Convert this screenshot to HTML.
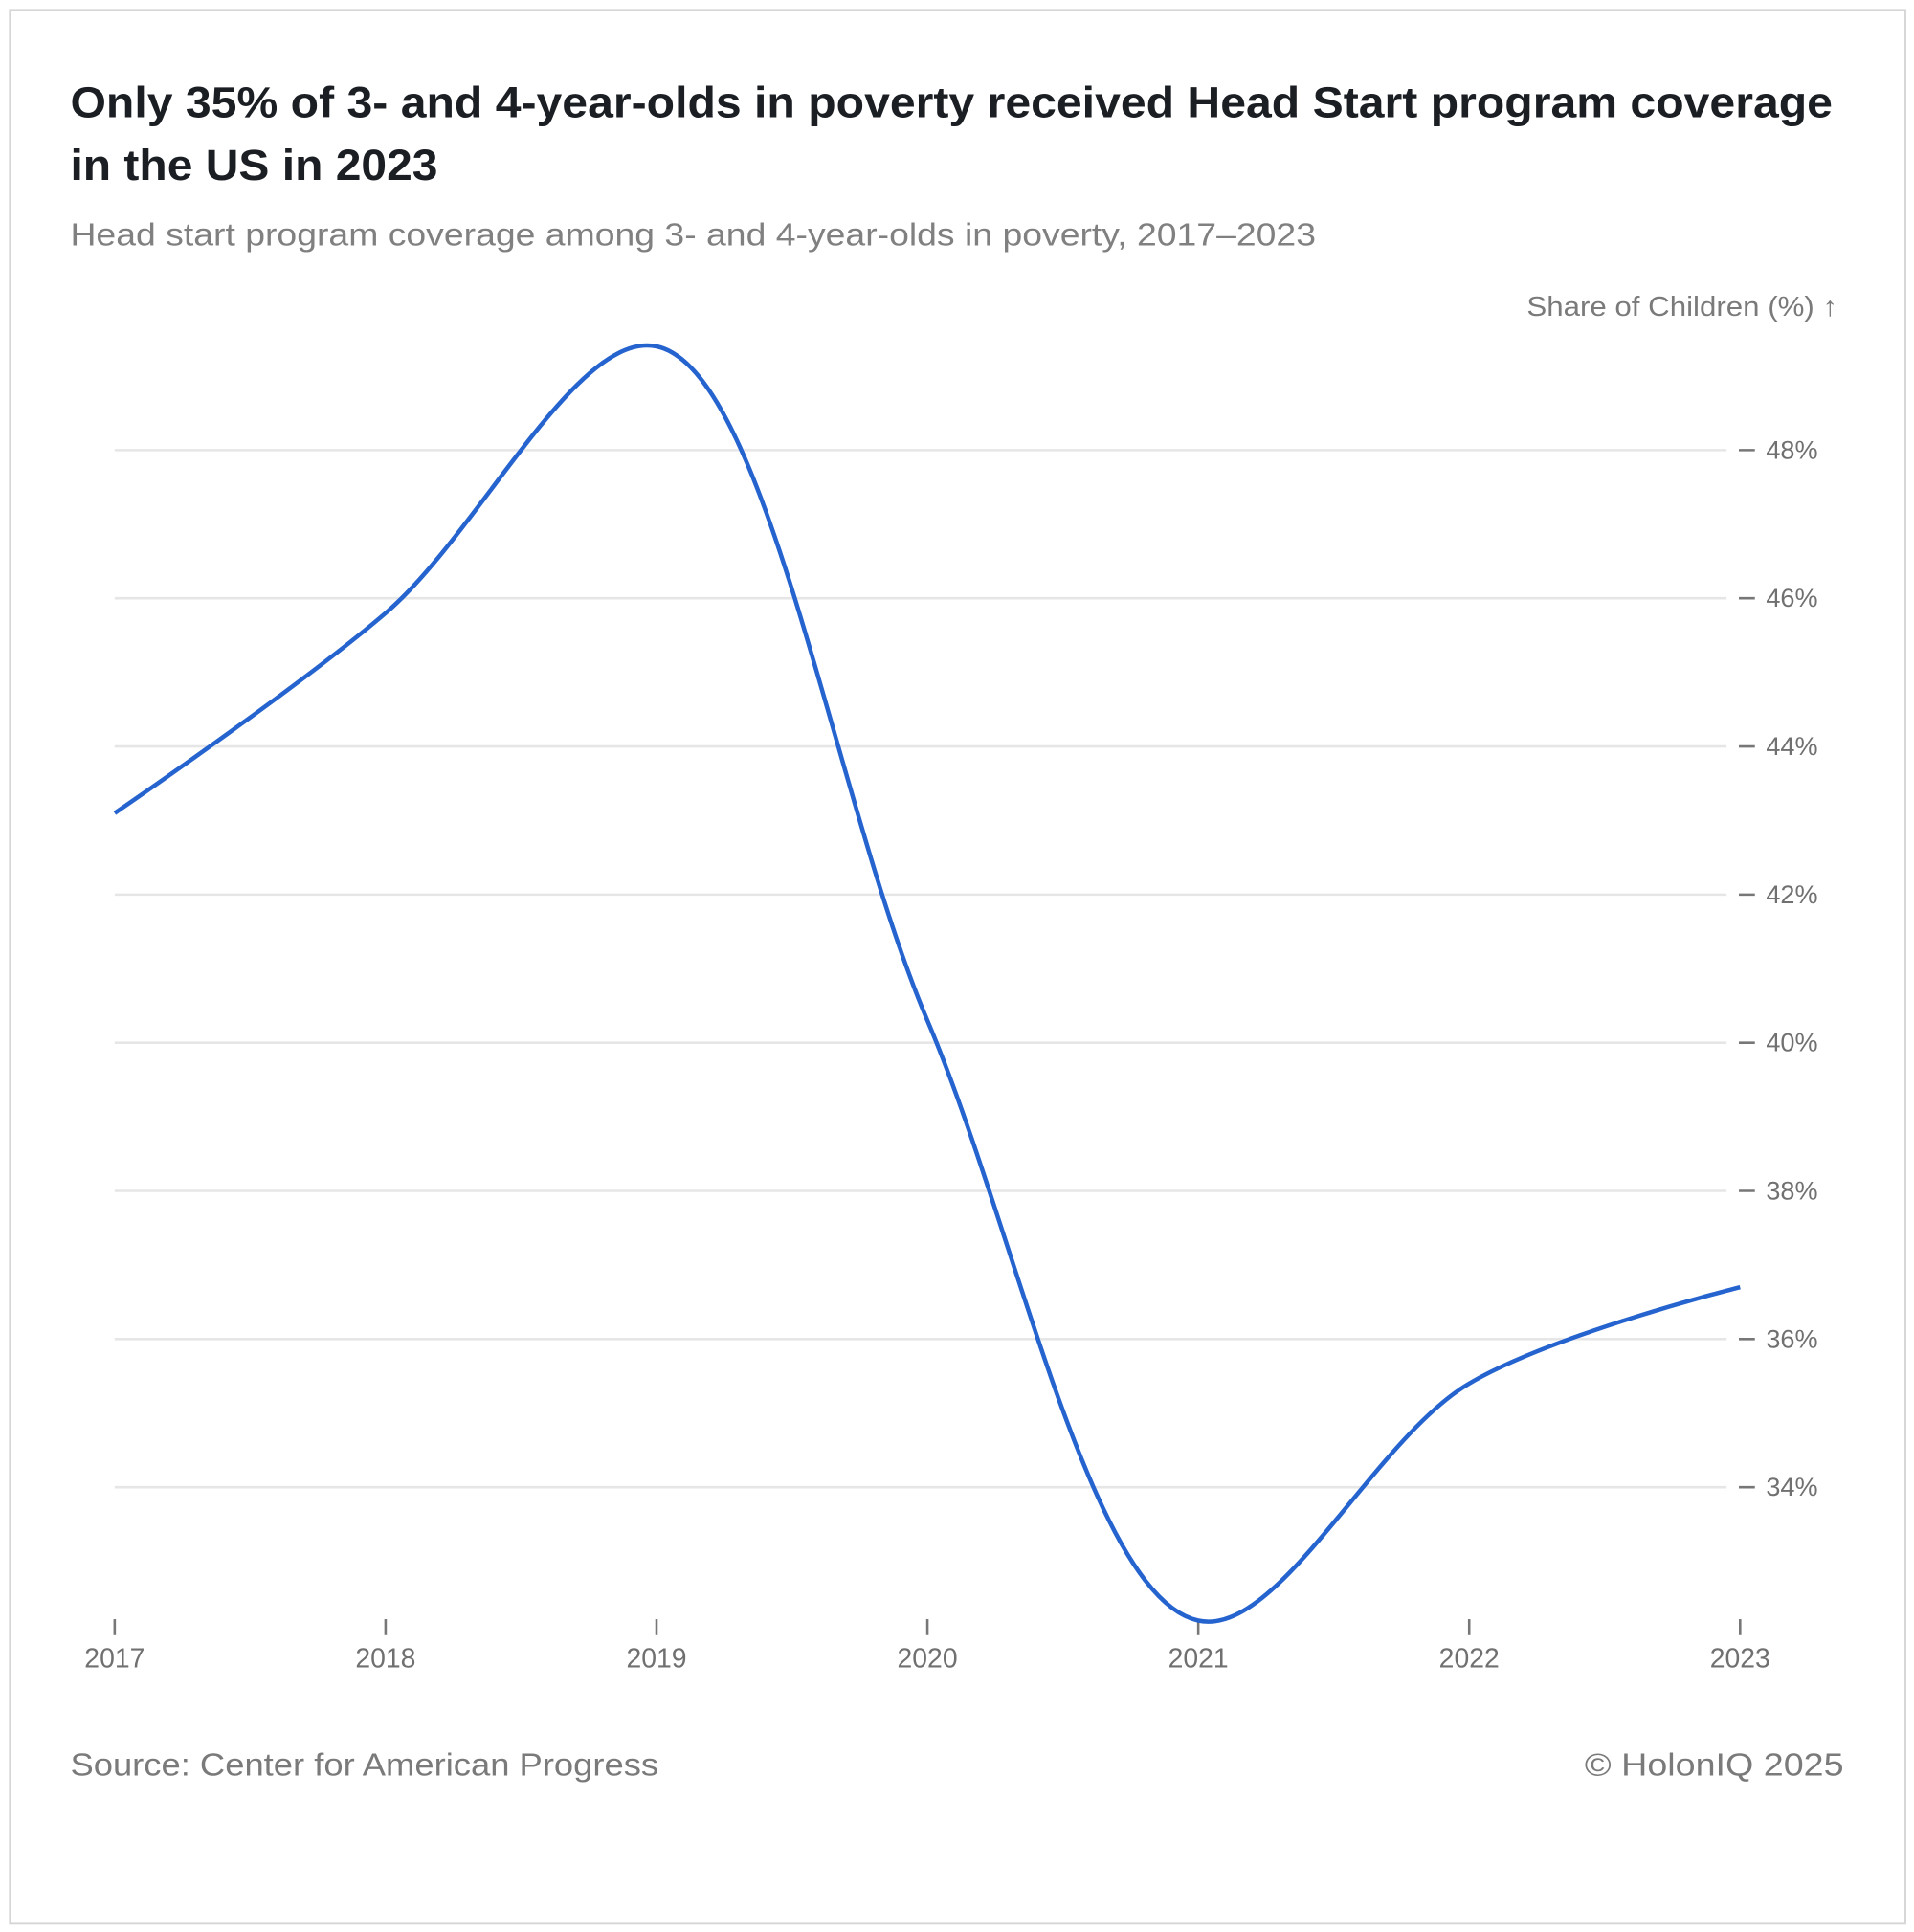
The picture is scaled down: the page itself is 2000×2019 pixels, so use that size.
<!DOCTYPE html>
<html><head><meta charset="utf-8"><style>
html,body{margin:0;padding:0;background:#fff;width:2000px;height:2019px;overflow:hidden}
text{font-family:"Liberation Sans",sans-serif}
</style></head><body>
<svg id="chart" width="2000" height="2019" viewBox="0 0 1552 1566.7" xmlns="http://www.w3.org/2000/svg">
<rect x="8" y="8" width="1537" height="1552" fill="#fff" stroke="#d6d6d6" stroke-width="1.5"/>
<text x="57" y="95" font-size="35" font-weight="600" fill="#1b1f24" textLength="1429" lengthAdjust="spacingAndGlyphs">Only 35% of 3- and 4-year-olds in poverty received Head Start program coverage</text>
<text x="57" y="146" font-size="35" font-weight="600" fill="#1b1f24" textLength="298" lengthAdjust="spacingAndGlyphs">in the US in 2023</text>
<text x="57" y="199" font-size="26" fill="#808080" textLength="1010" lengthAdjust="spacingAndGlyphs">Head start program coverage among 3- and 4-year-olds in poverty, 2017–2023</text>
<text x="1238" y="256" font-size="22" fill="#7a7a7a" textLength="252" lengthAdjust="spacingAndGlyphs">Share of Children (%) ↑</text>
<g id="grid"></g><g id="xaxis"></g>
<path id="line" fill="none" stroke="#2563cf" stroke-width="3.5"/>
<text x="57" y="1440" font-size="26" fill="#7a7a7a" textLength="477" lengthAdjust="spacingAndGlyphs">Source: Center for American Progress</text>
<text x="1285" y="1440" font-size="26" fill="#7a7a7a" textLength="210" lengthAdjust="spacingAndGlyphs">© HolonIQ 2025</text>
</svg>
<script>
const years = [2017, 2018, 2019, 2020, 2021, 2022, 2023];
const coverage = [43.1, 45.8, 49.4, 40.3, 32.2, 35.4, 36.7];
const yTicks = [34, 36, 38, 40, 42, 44, 46, 48];
const NS = "http://www.w3.org/2000/svg";
const x = v => 93 + (v - 2017) * (1411 - 93) / 6;
const y = v => 365 + (48 - v) * (1206 - 365) / 14;
const grid = document.getElementById('grid');
yTicks.forEach(t => {
  const l = document.createElementNS(NS, 'line');
  
  
  l.setAttribute('x1', 93); l.setAttribute('x2', 1400);
  l.setAttribute('y1', y(t)); l.setAttribute('y2', y(t));
  l.setAttribute('stroke', '#e6e6e6'); l.setAttribute('stroke-width', '2');
  grid.appendChild(l);
  const tk = document.createElementNS(NS, 'line');
  
  
  tk.setAttribute('x1', 1410); tk.setAttribute('x2', 1423);
  tk.setAttribute('y1', y(t)); tk.setAttribute('y2', y(t));
  tk.setAttribute('stroke', '#777'); tk.setAttribute('stroke-width', '2');
  grid.appendChild(tk);
  const tx = document.createElementNS(NS, 'text');
  
  
  tx.setAttribute('x', 1432); tx.setAttribute('y', y(t) + 7);
  tx.setAttribute('font-size', '21'); tx.setAttribute('fill', '#707070');
  tx.textContent = t + '%';
  grid.appendChild(tx);
});
const xa = document.getElementById('xaxis');
years.forEach(yr => {
  const tk = document.createElementNS(NS, 'line');
  
  
  tk.setAttribute('x1', x(yr)); tk.setAttribute('x2', x(yr));
  tk.setAttribute('y1', 1313); tk.setAttribute('y2', 1326);
  tk.setAttribute('stroke', '#777'); tk.setAttribute('stroke-width', '2');
  xa.appendChild(tk);
  const tx = document.createElementNS(NS, 'text');
  
  
  tx.setAttribute('x', x(yr)); tx.setAttribute('y', 1352);
  tx.setAttribute('font-size', '22'); tx.setAttribute('fill', '#707070');
  tx.setAttribute('text-anchor', 'middle');
  tx.textContent = yr;
  xa.appendChild(tx);
});
// centripetal Catmull-Rom (alpha 0.5), as d3.curveCatmullRom
const P = years.map((yr, i) => [x(yr), y(coverage[i])]), n = P.length;
const dist = (a, b) => Math.hypot(a[0] - b[0], a[1] - b[1]);
let path = `M${P[0][0]},${P[0][1]}`;
for (let i = 0; i < n - 1; i++) {
  const p1 = P[i], p2 = P[i+1];
  const p0 = i > 0 ? P[i-1] : null, p3 = i < n - 2 ? P[i+2] : null;
  const l12a = Math.sqrt(dist(p1, p2)), l12_2a = dist(p1, p2);
  let c1 = p1.slice(), c2 = p2.slice();
  if (p0) {
    const l01a = Math.sqrt(dist(p0, p1)), l01_2a = dist(p0, p1);
    const a = 2 * l01_2a + 3 * l01a * l12a + l12_2a, nn = 3 * l01a * (l01a + l12a);
    c1 = [0, 1].map(k => (p1[k] * a - p0[k] * l12_2a + p2[k] * l01_2a) / nn);
  }
  if (p3) {
    const l23a = Math.sqrt(dist(p2, p3)), l23_2a = dist(p2, p3);
    const b = 2 * l23_2a + 3 * l23a * l12a + l12_2a, m = 3 * l23a * (l23a + l12a);
    c2 = [0, 1].map(k => (p2[k] * b + p1[k] * l23_2a - p3[k] * l12_2a) / m);
  }
  path += ` C${c1[0]},${c1[1]} ${c2[0]},${c2[1]} ${p2[0]},${p2[1]}`;
}
document.getElementById('line').setAttribute('d', path);
</script>
</body></html>
